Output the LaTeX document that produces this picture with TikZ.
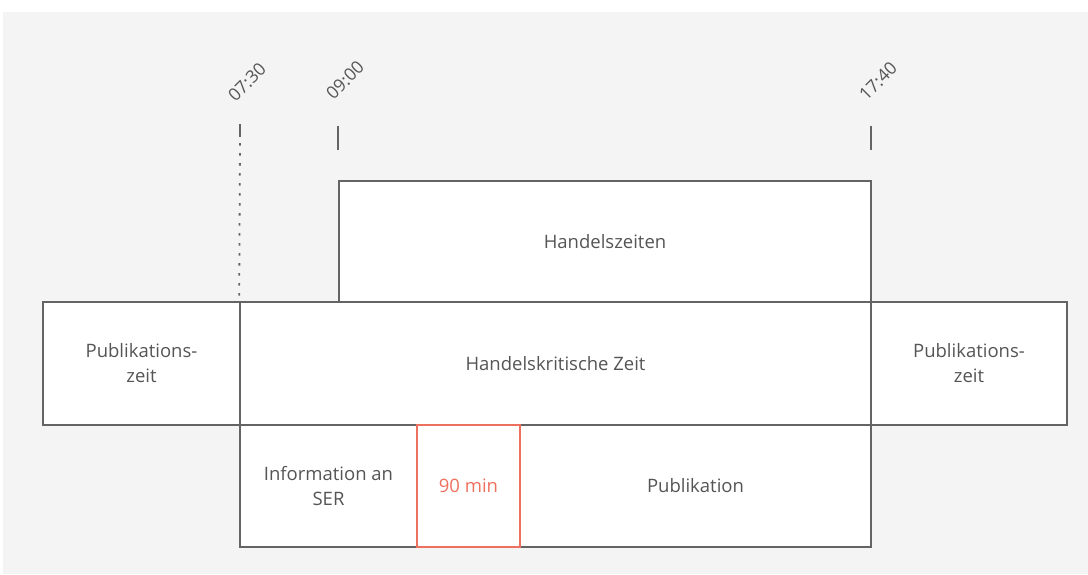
\documentclass[tikz,border=0pt]{standalone}
\usepackage{fontspec}
\setmainfont{Open Sans}
\definecolor{bggray}{RGB}{244,244,244}
\definecolor{linegray}{RGB}{100,100,100}
\definecolor{txtgray}{RGB}{85,85,85}
\definecolor{accent}{RGB}{238,112,95}
\tikzset{
  box/.style={draw=linegray, line width=1.6pt, fill=white, inner sep=0pt, align=center,
    text=txtgray, font=\fontsize{18.5}{25}\selectfont},
  redbox/.style={box, draw=accent, text=accent},
  tick/.style={draw=linegray, line width=1.6pt},
  timelabel/.style={text=txtgray, rotate=45, font=\fontsize{17.5}{20}\selectfont, inner sep=0pt}
}
\begin{document}
\begin{tikzpicture}[x=1pt,y=-1pt]
\useasboundingbox (0,0) rectangle (1088,574);
\fill[white] (0,0) rectangle (1088,574);
\fill[bggray] (3,12) rectangle (1088,574);
% middle row
\node[box, minimum width=197pt, minimum height=123pt] (pubL) at (141.5,363.5) {Publikations-\\zeit};
\node[box, minimum width=631pt, minimum height=123pt] (krit) at (555.5,363.5) {Handelskritische Zeit};
\node[box, minimum width=196pt, minimum height=123pt] (pubR) at (969,363.5) {Publikations-\\zeit};
% top row
\node[box, minimum width=532pt, minimum height=121pt] (handel) at (605,241.5) {Handelszeiten};
% bottom row
\node[box, minimum width=177pt, minimum height=122pt] (info) at (328.5,486) {Information an\\SER};
\node[box, minimum width=351pt, minimum height=122pt] (publ) at (695.5,486) {Publikation};
\node[redbox, minimum width=103pt, minimum height=122pt] (min) at (468.5,486) {90 min};
% ticks
\coordinate (t1a) at (240,124); \coordinate (t1b) at (240,137);
\coordinate (t2a) at (338,126); \coordinate (t2b) at (338,150);
\coordinate (t3a) at (871,126); \coordinate (t3b) at (871,150);
\draw[tick] (t1a) -- (t1b);
\draw[tick] (t2a) -- (t2b);
\draw[tick] (t3a) -- (t3b);
\draw[tick, line width=1.8pt, dash pattern=on 2.5pt off 7.5pt] (240,143) -- (krit.north west);
% time labels
\node[timelabel] (l1) at (247,82) {07:30};
\node[timelabel] (l2) at (345,80) {09:00};
\node[timelabel] (l3) at (878,81) {17:40};
\end{tikzpicture}
\end{document}
